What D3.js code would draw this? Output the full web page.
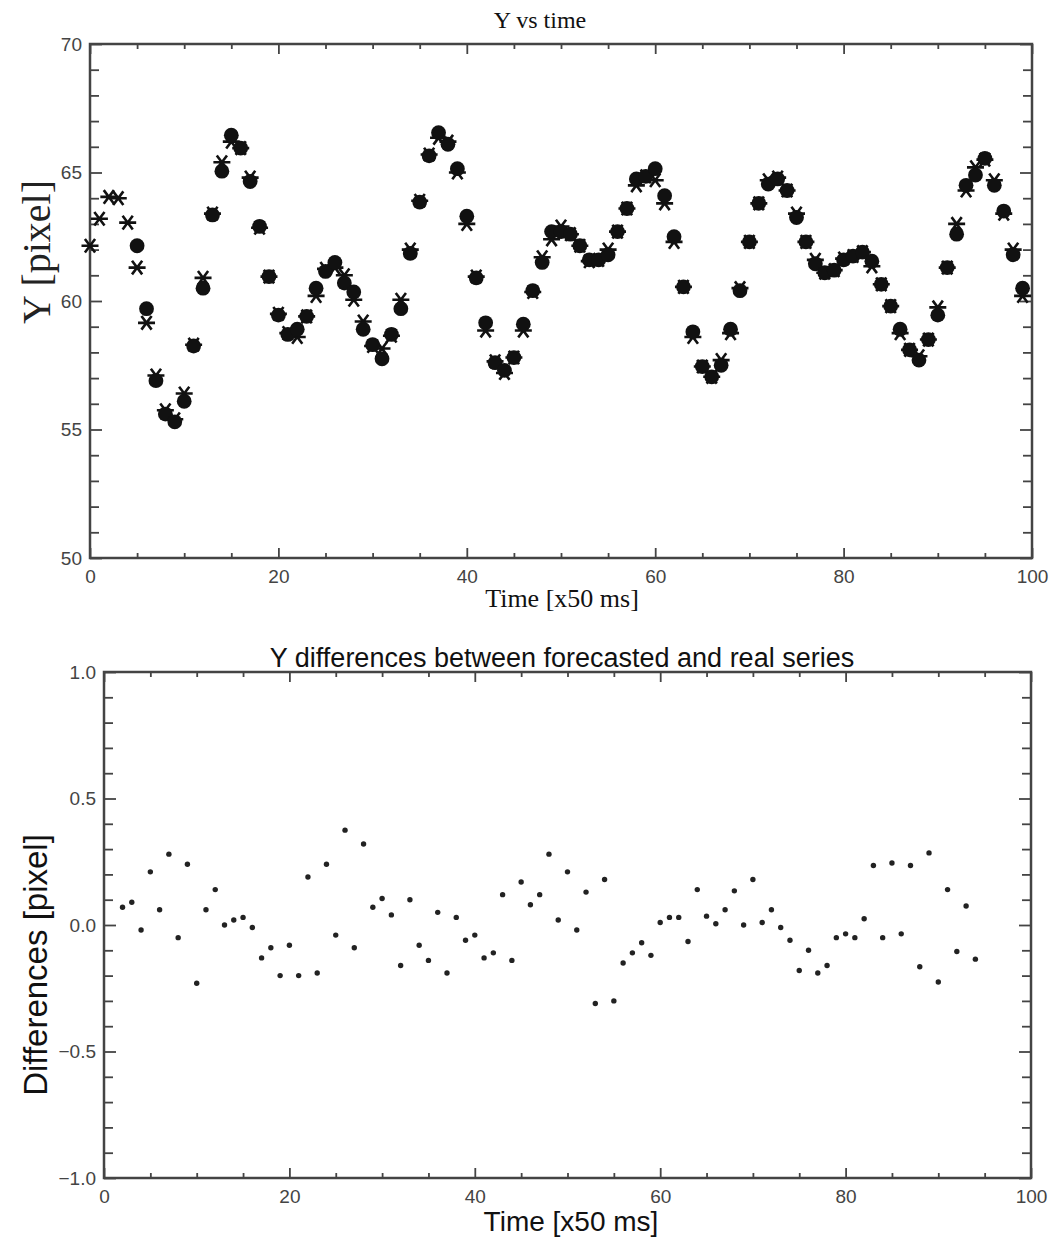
<!DOCTYPE html>
<html>
<head>
<meta charset="utf-8">
<script src="https://cdn.jsdelivr.net/npm/d3@7"></script>
<style>
  body { margin: 0; background: #fff; }
  svg { display: block; }
</style>
</head>
<body>
<svg id="chart" width="1053" height="1237"></svg>
<script>
// real Y series (asterisks), one value per time step starting at t=0
const realY = [
  62.15, 63.2, 64.05, 64.0, 63.05, 61.3, 59.15, 57.1, 55.75, 55.4,
  56.4, 58.3, 60.9, 63.4, 65.4, 66.2, 65.95, 64.8, 62.85, 60.95,
  59.5, 58.75, 58.6, 59.4, 60.2, 61.25, 61.3, 61.0, 60.05, 59.2,
  58.25, 58.15, 58.65, 60.05, 62.0, 63.9, 65.7, 66.35, 66.2, 65.0,
  63.0, 60.95, 58.85, 57.65, 57.2, 57.8, 58.85, 60.35, 61.7, 62.4,
  62.9, 62.6, 62.15, 61.55, 61.6, 62.0, 62.7, 63.6, 64.5, 64.85,
  64.7, 63.8, 62.3, 60.55, 58.6, 57.45, 57.05, 57.7, 58.75, 60.5,
  62.3, 63.8, 64.7, 64.8, 64.3, 63.4, 62.3, 61.6, 61.1, 61.2,
  61.65, 61.75, 61.9, 61.35, 60.65, 59.8, 58.75, 58.1, 57.85, 58.5,
  59.75, 61.3, 63.0, 64.3, 65.2, 65.5, 64.7, 63.4, 62.0, 60.2
];

// forecasted Y series (filled dots), starts at t=5
const forecastY = [
  null, null, null, null, null, 62.15, 59.7, 56.9, 55.6, 55.3,
  56.1, 58.25, 60.5, 63.35, 65.05, 66.45, 65.95, 64.65, 62.9, 60.95,
  59.45, 58.7, 58.9, 59.4, 60.5, 61.15, 61.5, 60.7, 60.35, 58.9,
  58.3, 57.75, 58.7, 59.7, 61.85, 63.85, 65.65, 66.55, 66.1, 65.15,
  63.3, 60.9, 59.15, 57.6, 57.3, 57.8, 59.1, 60.4, 61.5, 62.7,
  62.7, 62.6, 62.15, 61.6, 61.6, 61.8, 62.7, 63.6, 64.75, 64.85,
  65.15, 64.1, 62.5, 60.55, 58.8, 57.45, 57.05, 57.5, 58.9, 60.4,
  62.3, 63.8, 64.55, 64.75, 64.3, 63.25, 62.3, 61.45, 61.1, 61.2,
  61.6, 61.75, 61.9, 61.55, 60.65, 59.8, 58.9, 58.1, 57.7, 58.5,
  59.45, 61.3, 62.6, 64.5, 64.9, 65.55, 64.5, 63.5, 61.8, 60.5
];

// differences forecast - real, first value at t=2
const diffStart = 2;
const diffs = [
  0.07, 0.09, -0.02, 0.21, 0.06, 0.28, -0.05, 0.24, -0.23, 0.06,
  0.14, 0.00, 0.02, 0.03, -0.01, -0.13, -0.09, -0.20, -0.08, -0.20,
  0.19, -0.19, 0.24, -0.04, 0.375, -0.09, 0.32, 0.07, 0.105, 0.04,
  -0.16, 0.10, -0.08, -0.14, 0.05, -0.19, 0.03, -0.06, -0.04, -0.13,
  -0.11, 0.12, -0.14, 0.17, 0.08, 0.12, 0.28, 0.02, 0.21, -0.02,
  0.13, -0.31, 0.18, -0.30, -0.15, -0.11, -0.07, -0.12, 0.01, 0.03,
  0.03, -0.065, 0.14, 0.035, 0.005, 0.06, 0.135, 0.00, 0.18, 0.01,
  0.06, -0.01, -0.06, -0.18, -0.10, -0.19, -0.16, -0.05, -0.035, -0.05,
  0.025, 0.235, -0.05, 0.245, -0.035, 0.235, -0.165, 0.285, -0.225, 0.14,
  -0.105, 0.075, -0.135
];

const timeTicks = [0, 20, 40, 60, 80, 100];
const minorTime = [5, 10, 15, 25, 30, 35, 45, 50, 55, 65, 70, 75, 85, 90, 95];
const topYTicks = [50, 55, 60, 65, 70];
const topMinorY = [51, 52, 53, 54, 56, 57, 58, 59, 61, 62, 63, 64, 66, 67, 68, 69];
const diffYTicks = [-1.0, -0.5, 0.0, 0.5, 1.0];
const diffMinorY = [-0.9, -0.8, -0.7, -0.6, -0.4, -0.3, -0.2, -0.1, 0.1, 0.2, 0.3, 0.4, 0.6, 0.7, 0.8, 0.9];

const svg = d3.select("#chart");
svg.append("rect").attr("width", 1053).attr("height", 1237).attr("fill", "#fff");

const frameColor = "#444";
const sans = "'Liberation Sans', Arial, sans-serif";
const serif = "'Liberation Serif', 'Times New Roman', serif";

// box with inward ticks on all four sides, labels only bottom and left
function drawFrame(x, y, yMajor, yMinor, yFormat) {
  const [x0, x1] = x.range();
  const [y0, y1] = y.range();
  const g = svg.append("g");

  const sides = [
    { make: () => d3.axisBottom(x), tr: `translate(0,${y0})`, labels: true, isY: false },
    { make: () => d3.axisTop(x), tr: `translate(0,${y1})`, labels: false, isY: false },
    { make: () => d3.axisLeft(y), tr: `translate(${x0},0)`, labels: true, isY: true },
    { make: () => d3.axisRight(y), tr: `translate(${x1},0)`, labels: false, isY: true }
  ];
  sides.forEach(s => {
    const ax = g.append("g").attr("transform", s.tr).call(
      s.make().tickValues(s.isY ? yMajor : timeTicks)
        .tickSizeInner(s.isY ? -12 : -10).tickSizeOuter(0).tickPadding(s.isY ? 8 : 12)
        .tickFormat(s.labels ? (s.isY ? yFormat : d3.format("d")) : "")
    );
    ax.select(".domain").remove();
    ax.selectAll("line").attr("stroke", frameColor).attr("stroke-width", 1.8);
    ax.selectAll("text").attr("fill", "#444")
      .style("font-family", sans).style("font-size", "19px");

    const mg = g.append("g").attr("transform", s.tr).call(
      s.make().tickValues(s.isY ? yMinor : minorTime)
        .tickSizeInner(s.isY ? -9 : -5).tickSizeOuter(0).tickFormat("")
    );
    mg.select(".domain").remove();
    mg.selectAll("line").attr("stroke", frameColor).attr("stroke-width", 1.8);
  });
  g.append("rect")
    .attr("x", x0).attr("y", y1)
    .attr("width", x1 - x0).attr("height", y0 - y1)
    .attr("fill", "none").attr("stroke", frameColor).attr("stroke-width", 2.5);
}

// ---------- top chart: Y vs time ----------
const x1s = d3.scaleLinear().domain([0, 100]).range([90, 1032]);
const y1s = d3.scaleLinear().domain([50, 70]).range([558, 44]);
drawFrame(x1s, y1s, topYTicks, topMinorY, d3.format("d"));

const asterisk = s => {
  const a = s * 0.6, b = s * 0.8;
  return `M${-s},0L${s},0M${-a},${-b}L${a},${b}M${-a},${b}L${a},${-b}`;
};

svg.append("g").selectAll("path")
  .data(realY.map((v, i) => ({ t: i, v })))
  .join("path")
  .attr("transform", d => `translate(${x1s(d.t)},${y1s(d.v)})`)
  .attr("d", asterisk(8.5))
  .attr("stroke", "#111").attr("stroke-width", 2.6).attr("fill", "none");

svg.append("g").selectAll("circle")
  .data(forecastY.map((v, i) => ({ t: i, v })).filter(d => d.v !== null))
  .join("circle")
  .attr("cx", d => x1s(d.t)).attr("cy", d => y1s(d.v))
  .attr("r", 7.4).attr("fill", "#111");

svg.append("text").attr("x", 540).attr("y", 28).attr("text-anchor", "middle")
  .style("font-family", serif).style("font-size", "24px").attr("fill", "#111").text("Y vs time");
svg.append("text").attr("x", 562).attr("y", 607).attr("text-anchor", "middle")
  .style("font-family", serif).style("font-size", "26px").attr("fill", "#111").text("Time [x50 ms]");
svg.append("text").attr("transform", "translate(50,252) rotate(-90)").attr("text-anchor", "middle")
  .style("font-family", serif).style("font-size", "40px").attr("fill", "#222").text("Y [pixel]");

// ---------- bottom chart: differences ----------
const x2s = d3.scaleLinear().domain([0, 100]).range([104, 1031]);
const y2s = d3.scaleLinear().domain([-1, 1]).range([1178, 672]);
drawFrame(x2s, y2s, diffYTicks, diffMinorY, d3.format(".1f"));

svg.append("g").selectAll("circle")
  .data(diffs.map((v, i) => ({ t: i + diffStart, v })))
  .join("circle")
  .attr("cx", d => x2s(d.t)).attr("cy", d => y2s(d.v))
  .attr("r", 2.7).attr("fill", "#222");

svg.append("text").attr("x", 562).attr("y", 667).attr("text-anchor", "middle")
  .style("font-family", sans).style("font-size", "27px").attr("fill", "#111")
  .text("Y differences between forecasted and real series");
svg.append("text").attr("x", 571).attr("y", 1231).attr("text-anchor", "middle")
  .style("font-family", sans).style("font-size", "28px").attr("fill", "#111").text("Time [x50 ms]");
svg.append("text").attr("transform", "translate(47,965) rotate(-90)").attr("text-anchor", "middle")
  .style("font-family", sans).style("font-size", "33px").attr("fill", "#111").text("Differences [pixel]");
</script>
</body>
</html>
